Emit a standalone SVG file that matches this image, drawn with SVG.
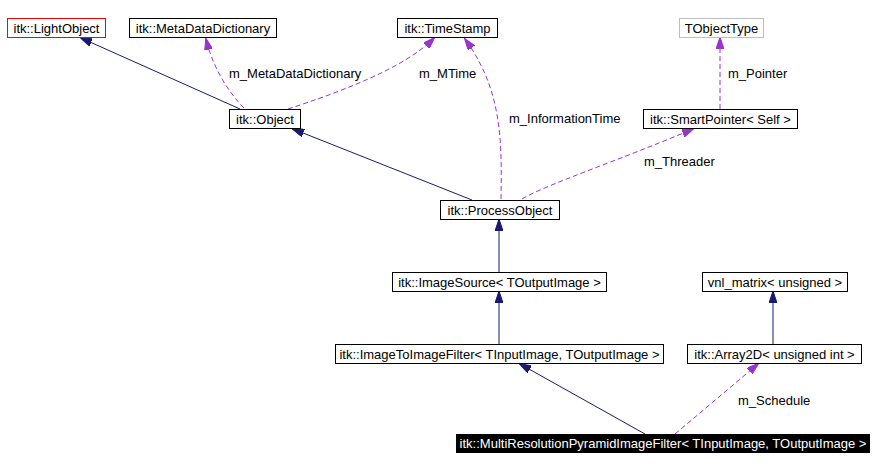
<svg xmlns="http://www.w3.org/2000/svg" width="876" height="470" viewBox="0 0 876 470">
<style>
  .box { fill: #ffffff; stroke: #000000; stroke-width: 1; }
  .lbl { font-family: "Liberation Sans", Arial, sans-serif; font-size: 13px; fill: #000000; text-anchor: middle; }
  .elbl { font-family: "Liberation Sans", Arial, sans-serif; font-size: 13px; fill: #000000; }
  .inh { fill: none; stroke: #191970; stroke-width: 1; }
  .use { fill: none; stroke: #9a32cd; stroke-width: 1; stroke-dasharray: 5,3; }
</style>
<defs>
  <marker id="ah-inh" viewBox="0 0 12 8" refX="11" refY="4" markerWidth="12" markerHeight="8" markerUnits="userSpaceOnUse" orient="auto">
    <path d="M0,0 L12,4 L0,8 Z" fill="#191970" stroke="#191970"/>
  </marker>
  <marker id="ah-use" viewBox="0 0 12 8" refX="11" refY="4" markerWidth="12" markerHeight="8" markerUnits="userSpaceOnUse" orient="auto">
    <path d="M0,0 L12,4 L0,8 Z" fill="#9a32cd" stroke="#9a32cd"/>
  </marker>
</defs>
<rect width="876" height="470" fill="#ffffff"/>

<g id="connectors">
  <path class="inh" d="M240,109 L81,38" marker-end="url(#ah-inh)"/>
  <path class="use" d="M244,108 C232,96 214,72 206,39" marker-end="url(#ah-use)"/>
  <path class="use" d="M288,109 C340,92 405,68 434,38" marker-end="url(#ah-use)"/>
  <path class="use" d="M501,199 C502,140 502,90 465,39" marker-end="url(#ah-use)"/>
  <path class="use" d="M522,199 C545,185 620,160 693,129" marker-end="url(#ah-use)"/>
  <path class="use" d="M720,109 L720,38" marker-end="url(#ah-use)"/>
  <path class="inh" d="M472,200 L293,129" marker-end="url(#ah-inh)"/>
  <path class="inh" d="M499,272 L499,220" marker-end="url(#ah-inh)"/>
  <path class="inh" d="M499,344 L499,292" marker-end="url(#ah-inh)"/>
  <path class="inh" d="M773,344 L773,292" marker-end="url(#ah-inh)"/>
  <path class="inh" d="M645,434 L520,364" marker-end="url(#ah-inh)"/>
  <path class="use" d="M675,434 L758,364" marker-end="url(#ah-use)"/>
  <text class="elbl" x="229" y="78">m_MetaDataDictionary</text>
  <text class="elbl" x="419" y="78">m_MTime</text>
  <text class="elbl" x="509" y="123">m_InformationTime</text>
  <text class="elbl" x="728" y="78">m_Pointer</text>
  <text class="elbl" x="644" y="166">m_Threader</text>
  <text class="elbl" x="738" y="405">m_Schedule</text>
</g>

<g id="LightObject">
  <rect class="box" x="7.5" y="18.5" width="98" height="19" style="stroke:#ff0000"/>
  <text class="lbl" x="56.5" y="32.5">itk::LightObject</text>
</g>
<g id="MetaDataDictionary">
  <rect class="box" x="129.5" y="18.5" width="147" height="19"/>
  <text class="lbl" x="203" y="32.5">itk::MetaDataDictionary</text>
</g>
<g id="TimeStamp">
  <rect class="box" x="397.5" y="18.5" width="100" height="19"/>
  <text class="lbl" x="447.5" y="32.5">itk::TimeStamp</text>
</g>
<g id="TObjectType">
  <rect class="box" x="679.5" y="18.5" width="84" height="19" style="stroke:#bfbfbf"/>
  <text class="lbl" x="721.5" y="32.5">TObjectType</text>
</g>
<g id="Object">
  <rect class="box" x="229.5" y="109.5" width="71" height="19"/>
  <text class="lbl" x="265" y="123.5">itk::Object</text>
</g>
<g id="SmartPointer">
  <rect class="box" x="643.5" y="109.5" width="154" height="19"/>
  <text class="lbl" x="720.5" y="123.5">itk::SmartPointer&lt; Self &gt;</text>
</g>
<g id="ProcessObject">
  <rect class="box" x="440.5" y="200.5" width="119" height="19"/>
  <text class="lbl" x="500" y="214.5">itk::ProcessObject</text>
</g>
<g id="ImageSource">
  <rect class="box" x="392.5" y="272.5" width="214" height="19"/>
  <text class="lbl" x="499.5" y="286.5">itk::ImageSource&lt; TOutputImage &gt;</text>
</g>
<g id="vnl_matrix">
  <rect class="box" x="702.5" y="272.5" width="145" height="19"/>
  <text class="lbl" x="775" y="286.5">vnl_matrix&lt; unsigned &gt;</text>
</g>
<g id="ImageToImageFilter">
  <rect class="box" x="335.5" y="344.5" width="328" height="19"/>
  <text class="lbl" x="499.5" y="358.5">itk::ImageToImageFilter&lt; TInputImage, TOutputImage &gt;</text>
</g>
<g id="Array2D">
  <rect class="box" x="687.5" y="344.5" width="174" height="19"/>
  <text class="lbl" x="774.5" y="358.5">itk::Array2D&lt; unsigned int &gt;</text>
</g>
<g id="MultiResolutionPyramidImageFilter">
  <rect x="456" y="434" width="414" height="19" fill="#000000"/>
  <text class="lbl" x="663" y="448" style="fill:#ffffff">itk::MultiResolutionPyramidImageFilter&lt; TInputImage, TOutputImage &gt;</text>
</g>
</svg>
